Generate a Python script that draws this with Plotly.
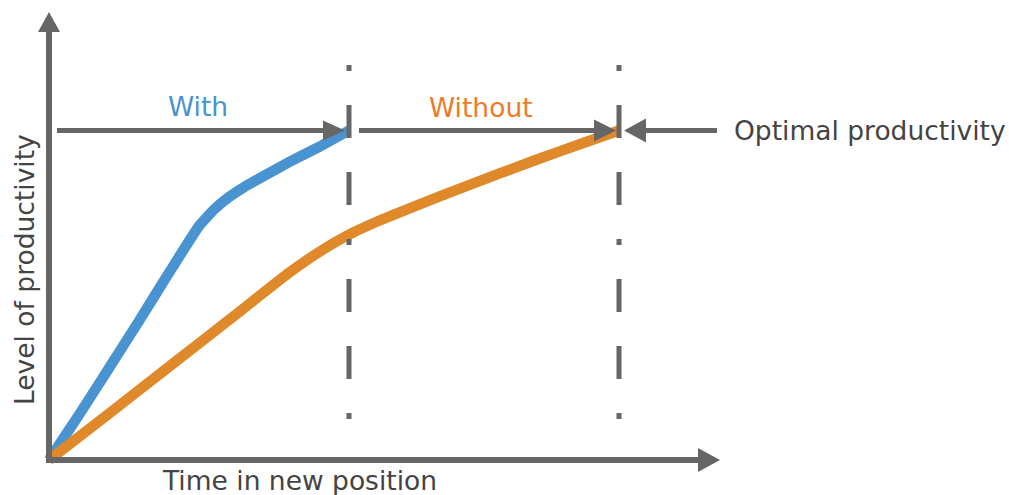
import plotly.graph_objects as go

# ---- data ----
time_with = [0, 0.5, 1.0, 1.5, 2.0, 2.5, 2.75, 3.0, 3.25, 3.5, 4.0, 4.5, 5.0]
prod_with = [0, 13.7, 27.9, 42.2, 56.8, 71.0, 76.0, 79.8, 82.8, 85.4, 90.4, 95.0, 100]
time_without = [0, 1, 2, 3, 4, 4.5, 5, 5.5, 6, 6.5, 7, 7.5, 8, 8.5, 9, 9.5]
prod_without = [0, 14.1, 28.3, 42.5, 56.8, 63.1, 68.4, 72.6, 76.3, 79.9, 83.4, 86.9, 90.3, 93.6, 96.8, 100]
optimal_level = 100
t_with_opt = 5.0
t_without_opt = 9.5

labels = {"with": "With", "without": "Without", "optimal": "Optimal productivity",
          "x": "Time in new position", "y": "Level of productivity"}

# ---- scale helpers (pixels per data unit) ----
W, H = 1009, 495
ox, oy = 49, 460          # pixel origin
sx, sy = 60.0, 3.295      # px per unit
def dx(px): return px / sx
def dy(px): return px / sy
def X(px): return (px - ox) / sx
def Y(px): return (oy - px) / sy

GRAY = "#666666"
BLUE = "#4A93D1"
ORANGE = "#E0892A"
TXT = "#444444"
FONT = "DejaVu Sans"
FS = 26.5

fig = go.Figure()
fig.add_trace(go.Scatter(x=time_with, y=prod_with, mode="lines",
                         line=dict(color=BLUE, width=10.5, shape="spline", smoothing=0.4),
                         hoverinfo="skip"))
fig.add_trace(go.Scatter(x=time_without, y=prod_without, mode="lines",
                         line=dict(color=ORANGE, width=10.5, shape="spline", smoothing=0.4),
                         hoverinfo="skip"))

shapes = []
def line(x0, y0, x1, y1, width=5, dash=None):
    d = dict(type="line", x0=x0, y0=y0, x1=x1, y1=y1, xref="x", yref="y",
             line=dict(color=GRAY, width=width))
    if dash:
        d["line"]["dash"] = dash
    shapes.append(d)

def tri(tipx, tipy, direction, L=22, Hh=11):
    if direction == "right":
        pts = [(tipx, tipy), (tipx - dx(L), tipy + dy(Hh)), (tipx - dx(L), tipy - dy(Hh))]
    elif direction == "left":
        pts = [(tipx, tipy), (tipx + dx(L), tipy + dy(Hh)), (tipx + dx(L), tipy - dy(Hh))]
    else:  # up
        pts = [(tipx, tipy), (tipx - dx(Hh), tipy - dy(L)), (tipx + dx(Hh), tipy - dy(L))]
    path = "M" + " L".join(f"{a},{b}" for a, b in pts) + " Z"
    shapes.append(dict(type="path", path=path, xref="x", yref="y",
                       fillcolor=GRAY, line=dict(color=GRAY, width=0)))

# axes
line(0, -dy(3), 0, Y(31), width=6)
tri(0, Y(12), "up", L=20, Hh=11)
line(-dx(3), 0, X(699), 0, width=6)
tri(X(720), 0, "right", L=22, Hh=12)

# dashed verticals
dash_pat = "6px,34px,33px,34px,33px,34px"
for t in (t_with_opt, t_without_opt):
    line(t, Y(65), t, Y(419), width=5, dash=dash_pat)

# horizontal arrows
line(X(57), optimal_level, t_with_opt - dx(24), optimal_level)
tri(t_with_opt - dx(4), optimal_level, "right", L=22, Hh=10)
line(t_with_opt + dx(10), optimal_level, t_without_opt - dx(22), optimal_level)
tri(t_without_opt - dx(3), optimal_level, "right", L=22, Hh=11)
line(t_without_opt + dx(24), optimal_level, X(717), optimal_level)
tri(t_without_opt + dx(5), optimal_level, "left", L=22, Hh=12)

ann = [
    dict(x=X(197.5), y=Y(106), text=labels["with"], font=dict(color=BLUE, size=FS, family=FONT),
         xanchor="center", yanchor="middle"),
    dict(x=X(481), y=Y(107), text=labels["without"], font=dict(color="#F07A25", size=FS, family=FONT),
         xanchor="center", yanchor="middle"),
    dict(x=X(732), y=Y(130), text=labels["optimal"], font=dict(color=TXT, size=FS, family=FONT),
         xanchor="left", yanchor="middle"),
    dict(x=X(299), y=Y(480), text=labels["x"], font=dict(color=TXT, size=FS, family=FONT),
         xanchor="center", yanchor="middle"),
    dict(x=X(24), y=Y(270), text=labels["y"], font=dict(color=TXT, size=FS, family=FONT),
         xanchor="center", yanchor="middle", textangle=-90),
]
for a in ann:
    a.update(xref="x", yref="y", showarrow=False)

fig.update_layout(
    width=W, height=H, margin=dict(l=0, r=0, t=0, b=0),
    paper_bgcolor="white", plot_bgcolor="white", showlegend=False,
    xaxis=dict(range=[X(0), X(W)], visible=False, fixedrange=True),
    yaxis=dict(range=[Y(H), Y(0)], visible=False, fixedrange=True),
    shapes=shapes, annotations=ann,
)
fig.write_html("out.html", config={"displayModeBar": False})
